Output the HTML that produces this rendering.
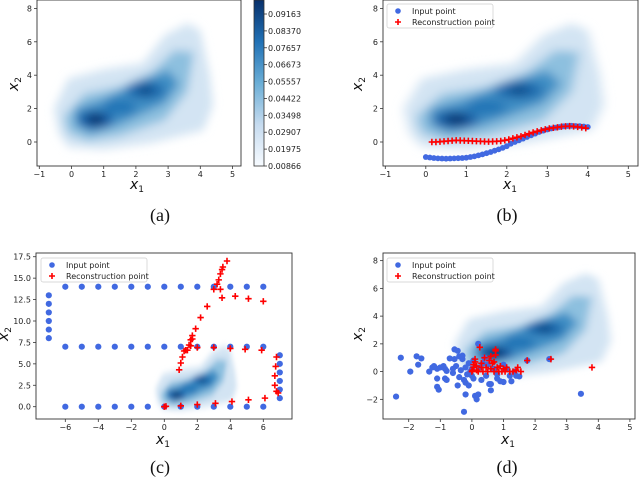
<!DOCTYPE html>
<html><head><meta charset="utf-8"><style>
body{margin:0;background:#fff;}
svg{display:block;font-family:"DejaVu Sans","Liberation Sans",sans-serif;}
.tk{font-size:8px;fill:#222;}
.lab{font-family:"DejaVu Sans","Liberation Sans",sans-serif;font-style:italic;font-size:14px;fill:#111;}
.cap{font-family:"Liberation Serif",serif;font-size:18px;fill:#111;}
.lg{font-size:8px;fill:#222;}
</style></head><body>
<svg id="fig" width="640" height="480" viewBox="0 0 640 480" xmlns="http://www.w3.org/2000/svg">
<defs>
<filter id="blur" x="-50%" y="-50%" width="200%" height="200%"><feGaussianBlur stdDeviation="0.14 0.28"/></filter>
<filter id="blurc" x="-50%" y="-50%" width="200%" height="200%"><feGaussianBlur stdDeviation="0.14 0.4"/></filter>
<linearGradient id="cbg" x1="0" y1="0" x2="0" y2="1">
<stop offset="0" stop-color="#08306b"/><stop offset="0.25" stop-color="#2171b5"/><stop offset="0.5" stop-color="#6baed6"/><stop offset="0.75" stop-color="#c6dbef"/><stop offset="1" stop-color="#f7fbff"/></linearGradient>
</defs>
</svg>
<script>
// Panel (b)
const bInX=[0,0.1,0.2,0.3,0.4,0.5,0.6,0.7,0.8,0.9,1.0,1.1,1.2,1.3,1.4,1.5,1.6,1.7,1.8,1.9,2.0,2.1,2.2,2.3,2.4,2.5,2.6,2.7,2.8,2.9,3.0,3.1,3.2,3.3,3.4,3.5,3.6,3.7,3.8,3.9,4.0];
const bInY=[-0.9,-0.93,-0.96,-0.98,-0.99,-1.0,-0.99,-0.98,-0.97,-0.96,-0.94,-0.9,-0.86,-0.8,-0.74,-0.67,-0.6,-0.52,-0.44,-0.35,-0.25,-0.1,0.0,0.1,0.2,0.3,0.4,0.5,0.6,0.68,0.75,0.81,0.86,0.9,0.94,0.96,0.97,0.96,0.95,0.93,0.9];
const bRecX=[0.15,0.25,0.35,0.45,0.55,0.65,0.75,0.85,0.95,1.05,1.15,1.25,1.35,1.45,1.55,1.65,1.75,1.85,1.95,2.05,2.15,2.25,2.35,2.45,2.55,2.65,2.75,2.85,2.95,3.05,3.15,3.25,3.35,3.45,3.55,3.65,3.75,3.85,3.95];
const bRecY=[0.0,0.0,0.02,0.04,0.06,0.08,0.1,0.09,0.08,0.07,0.06,0.05,0.04,0.03,0.02,0.03,0.04,0.06,0.1,0.15,0.22,0.28,0.34,0.42,0.5,0.57,0.64,0.7,0.76,0.81,0.85,0.88,0.92,0.94,0.95,0.93,0.9,0.87,0.83];
// Panel (c)
const cInX=[-6,-5,-4,-3,-2,-1,0,1,2,3,4,5,6,-6,-5,-4,-3,-2,-1,0,1,2,3,4,5,6,-6,-5,-4,-3,-2,-1,0,1,2,3,4,5,6,-7,-7,-7,-7,-7,-7,7,7,7,7,7,7];
const cInY=[14,14,14,14,14,14,14,14,14,14,14,14,14,7,7,7,7,7,7,7,7,7,7,7,7,7,0,0,0,0,0,0,0,0,0,0,0,0,0,8,9,10,11,12,13,1,2,3,4,5,6];
const cRecX=[0,0.1,1,2,3.1,4.1,5.1,6.1,6.8,6.9,6.7,6.7,6.75,6.8,0.9,1,1.1,1.3,1.5,1.6,1.7,1.9,2.2,2.6,3,3.2,3.3,3.4,3.5,3.55,3.8,3.4,3.5,4.3,5.1,6,1.4,2,3,4,4.9,5.9,1.2,1.6,1.7];
const cRecY=[0,0.05,0.1,0.25,0.4,0.6,0.8,1.0,1.8,1.6,2.5,3.6,4.7,5.8,4.3,5.1,5.8,6.6,7.2,7.8,8.3,9.1,10.4,11.7,13.7,14.3,14.8,15.5,16,16.3,17,13.7,12.7,12.9,12.6,12.3,6.6,6.9,6.9,6.8,6.7,6.6,6.5,7.1,7.9];
// Panel (d)
const dInX=[-2.4,-2.25,-1.95,-1.75,-1.7,-1.6,-1.35,-1.25,-1.2,-1.1,-1.1,-1.1,-1.05,-1.0,-0.9,-0.85,-0.8,-0.85,-0.8,-0.7,-0.6,-0.55,-0.55,-0.5,-0.45,-0.4,-0.4,-0.45,-0.35,-0.3,-0.3,-0.25,-0.2,-0.2,-0.15,-0.1,-0.1,-0.05,0,0.05,0.05,0.1,0.15,0.2,0.2,0.25,0.3,0.35,0.4,0.45,0.5,0.55,0.6,0.6,0.7,0.8,0.8,0.9,1.0,1.0,1.1,1.2,1.25,1.35,1.4,1.5,1.75,2.45,3.45,-0.25,-0.2,-0.6,0.0];
const dInY=[-1.8,1.0,0.0,1.1,0.5,0.95,0.0,0.3,0.4,0.2,-0.5,-1.1,-1.3,0.3,0.4,0.2,0.05,-0.5,-0.6,0.95,-0.1,0.9,1.6,0.4,1.5,1.1,-0.4,-1.0,0.1,0.9,1.15,-0.6,-0.8,0.3,-0.2,0.6,-1.0,0.0,-0.3,0.8,-0.5,-1.75,-2.0,2.0,-1.65,0.3,-0.6,0.6,1.0,-0.3,0.5,-0.9,-1.35,-0.9,0.2,-0.2,-0.5,-0.7,0.5,-0.75,0.2,-0.3,-0.7,0.0,-0.3,-0.35,0.8,0.9,-1.6,-2.9,-1.65,0.2,0.2];
const dRecX=[0,0.02,0.05,0.05,0.1,0.1,0.15,0.2,0.25,0.3,0.35,0.4,0.45,0.5,0.55,0.6,0.6,0.65,0.7,0.75,0.75,0.8,0.85,0.9,0.95,1.0,1.05,1.1,1.2,1.3,1.4,1.45,1.55,1.75,2.5,3.8,0.3,0.15,0.7,0.75];
const dRecY=[0,0.1,0.3,0.5,0.7,0.9,0.1,0.0,1.75,0.6,0.0,1.0,0.3,0.0,0.8,0.2,1.1,0.6,0.0,1.5,1.2,0.3,0.0,0.4,0.0,0.2,0.0,0.3,0.0,0.0,0.1,0.3,0.0,0.8,0.9,0.3,0.3,0.4,0.7,1.6];
// Axis ticks
const abTicksX=[-1,0,1,2,3,4,5];
const abTicksY=[0,2,4,6,8];
const cTicksX=[-6,-4,-2,0,2,4,6];
const cTicksY=[0,2.5,5,7.5,10,12.5,15,17.5];
const cTickLabY=["0.0","2.5","5.0","7.5","10.0","12.5","15.0","17.5"];
const dTicksX=[-2,-1,0,1,2,3,4,5];
const dTicksY=[-2,0,2,4,6,8];
const cbLabels=["0.09163","0.08370","0.07657","0.06673","0.05557","0.04422","0.03498","0.02907","0.01975","0.00866"];

const NS="http://www.w3.org/2000/svg";
const fig=document.getElementById('fig');
function el(tag,attrs,parent){const e=document.createElementNS(NS,tag);for(const k in attrs)e.setAttribute(k,attrs[k]);(parent||fig).appendChild(e);return e;}

const outerP=[[-0.4,0.5],[-0.1,-0.3],[1,-0.45],[2.5,-0.05],[4.1,0.7],[4.4,2.2],[4.3,4],[4.0,6.7],[3.6,7.1],[2.9,6.4],[2.2,4.7],[1,4.35],[-0.1,3.8],[-0.55,2]];
const midP=[[-0.1,0.5],[0.5,0.05],[1.5,0.35],[2.9,1.3],[3.6,3],[3.8,5.4],[3.2,5.5],[2.5,4.2],[1.5,3.3],[0.4,2.9],[-0.25,1.5]];
const darkP=[[0.1,1.0],[0.6,0.5],[1.5,1.05],[2.9,2.3],[3.35,3.5],[3.0,4.3],[2.0,3.6],[1.0,2.6],[0.1,2.0]];

function makePanel(o){
  const g=el('g',{});
  const sx=v=>o.x0+v*o.kx, sy=v=>o.y0-v*o.ky;
  const w=o.right-o.left,h=o.bottom-o.top;
  const clipId='clip'+o.id;
  const cp=el('clipPath',{id:clipId},g);el('rect',{x:o.left,y:o.top,width:w,height:h},cp);
  const dens=el('g',{'clip-path':'url(#'+clipId+')'},g);
  
  
  const dg=el('g',{transform:`translate(${o.x0},${o.y0}) scale(${o.kx},${-o.ky})`,filter:o.id==='c'?'url(#blurc)':'url(#blur)'},dens);
  const pts=a=>a.map(p=>p[0]+','+p[1]).join(' ');
  el('polygon',{points:pts(outerP),fill:'#d3e4f3'},dg);
  el('polygon',{points:pts(midP),fill:'#8dc0df'},dg);
  el('polygon',{points:pts(darkP),fill:'#3f8fc5'},dg);
  el('ellipse',{cx:2.3,cy:3.1,rx:0.6,ry:0.55,fill:'#1c6aad'},dg);
  el('ellipse',{cx:0.75,cy:1.35,rx:0.55,ry:0.55,fill:'#155ea6'},dg);
  el('ellipse',{cx:1.5,cy:2.1,rx:0.5,ry:0.45,fill:'#2474b6'},dg);
  el('ellipse',{cx:0.75,cy:1.35,rx:0.28,ry:0.3,fill:'#08306b'},dg);
  el('ellipse',{cx:2.3,cy:3.1,rx:0.25,ry:0.25,fill:'#0a4685'},dg);
  if(o.inX){
    const sg=el('g',{'clip-path':'url(#'+clipId+')'},g);
    o.inX.forEach((x,i)=>{const c=el('circle',{cx:sx(x),cy:sy(o.inY[i]),r:o.r,fill:'#4169e1'},sg);
      
      });
    o.recX.forEach((x,i)=>{const X=sx(x),Y=sy(o.recY[i]),s=3.2;
      const p=el('path',{d:`M${X-s},${Y}H${X+s}M${X},${Y-s}V${Y+s}`,stroke:'#ff0000','stroke-width':1.6},sg);
      
      });
  }
  const fr=el('rect',{x:o.left,y:o.top,width:w,height:h,fill:'none',stroke:'#333','stroke-width':0.9},g);
  
  
  o.tx.forEach(t=>{const X=sx(t);el('line',{x1:X,x2:X,y1:o.bottom,y2:o.bottom+3,stroke:'#333','stroke-width':0.8},g);
    const tt=el('text',{x:X,y:o.bottom+11,'text-anchor':'middle',class:'tk'},g);tt.textContent=(t<0?'\u2212'+(-t):t);
    
    });
  o.ty.forEach((t,i)=>{const Y=sy(t);el('line',{x1:o.left-3,x2:o.left,y1:Y,y2:Y,stroke:'#333','stroke-width':0.8},g);
    const lab=o.tyLab?o.tyLab[i]:(t<0?'\u2212'+(-t):''+t);
    const tt=el('text',{x:o.left-5,y:Y+3,'text-anchor':'end',class:'tk'},g);tt.textContent=lab;
    
    });
  const xl=el('text',{x:o.xlx,y:o.xly,'text-anchor':'middle',class:'lab'},g);
  xl.innerHTML='x<tspan font-size="9" dy="3" font-style="normal">1</tspan>';
  
  
  const yl=el('text',{x:0,y:0,'text-anchor':'middle',class:'lab',transform:`translate(${o.ylx},${o.yly}) rotate(-90)`},g);
  yl.innerHTML='x<tspan font-size="9" dy="3" font-style="normal">2</tspan>';
  
  
  const cap=el('text',{x:o.capx,y:o.capy,'text-anchor':'middle',class:'cap'},g);cap.textContent='('+o.id+')';
  
  
  if(o.inX){
    const lg=el('g',{},g);
    
    
    el('rect',{x:o.lgx,y:o.lgy,width:106,height:24,rx:2,fill:'#fff','fill-opacity':0.85,stroke:'#ccc','stroke-width':0.7},lg);
    const e1=el('circle',{cx:o.lgx+11,cy:o.lgy+7,r:2.8,fill:'#4169e1'},lg);
    
    
    const X=o.lgx+11,Y=o.lgy+18;
    el('path',{d:`M${X-3},${Y}H${X+3}M${X},${Y-3}V${Y+3}`,stroke:'#f00','stroke-width':1.6},lg);
    const t1=el('text',{x:o.lgx+25,y:o.lgy+10,class:'lg'},lg);t1.textContent='Input point';
    
    
    const t2=el('text',{x:o.lgx+25,y:o.lgy+21,class:'lg'},lg);t2.textContent='Reconstruction point';
    
    
  }
  return g;
}
makePanel({id:'a',name:'panel-a',left:37,right:241,top:0,bottom:166,x0:71.5,kx:32.2,y0:142,ky:16.7,tx:abTicksX,ty:abTicksY,xlx:137,xly:189,ylx:18,yly:84,capx:160,capy:221});
makePanel({id:'b',name:'panel-b',left:383,right:638,top:0,bottom:166,x0:425.8,kx:40.5,y0:142,ky:16.7,tx:abTicksX,ty:abTicksY,xlx:510,xly:189,ylx:362,yly:84,capx:507,capy:221,inX:bInX,inY:bInY,recX:bRecX,recY:bRecY,r:2.9,lgx:387,lgy:4});
makePanel({id:'c',name:'panel-c',left:36,right:292,top:253,bottom:419,x0:164.3,kx:16.5,y0:406.7,ky:8.57,tx:cTicksX,ty:cTicksY,tyLab:cTickLabY,xlx:163,xly:444,ylx:8,yly:334,capx:160,capy:473,inX:cInX,inY:cInY,recX:cRecX,recY:cRecY,r:3.1,lgx:41,lgy:258});
makePanel({id:'d',name:'panel-d',left:383,right:635,top:253,bottom:419,x0:471.9,kx:31.6,y0:371.6,ky:13.87,tx:dTicksX,ty:dTicksY,xlx:508,xly:444,ylx:362,yly:334,capx:507,capy:473,inX:dInX,inY:dInY,recX:dRecX,recY:dRecY,r:3.1,lgx:387,lgy:258});

const cb=el('g',{});


el('rect',{x:254,y:0,width:10,height:166,fill:'url(#cbg)',stroke:'#333','stroke-width':0.8},cb);
cbLabels.forEach((l,i)=>{const Y=14+i*(166-14)/(cbLabels.length-1);
  el('line',{x1:264,x2:267,y1:Y,y2:Y,stroke:'#333','stroke-width':0.8},cb);
  const t=el('text',{x:268,y:Y+3,class:'tk'},cb);t.textContent=l;
  
  });
</script>
</body></html>
